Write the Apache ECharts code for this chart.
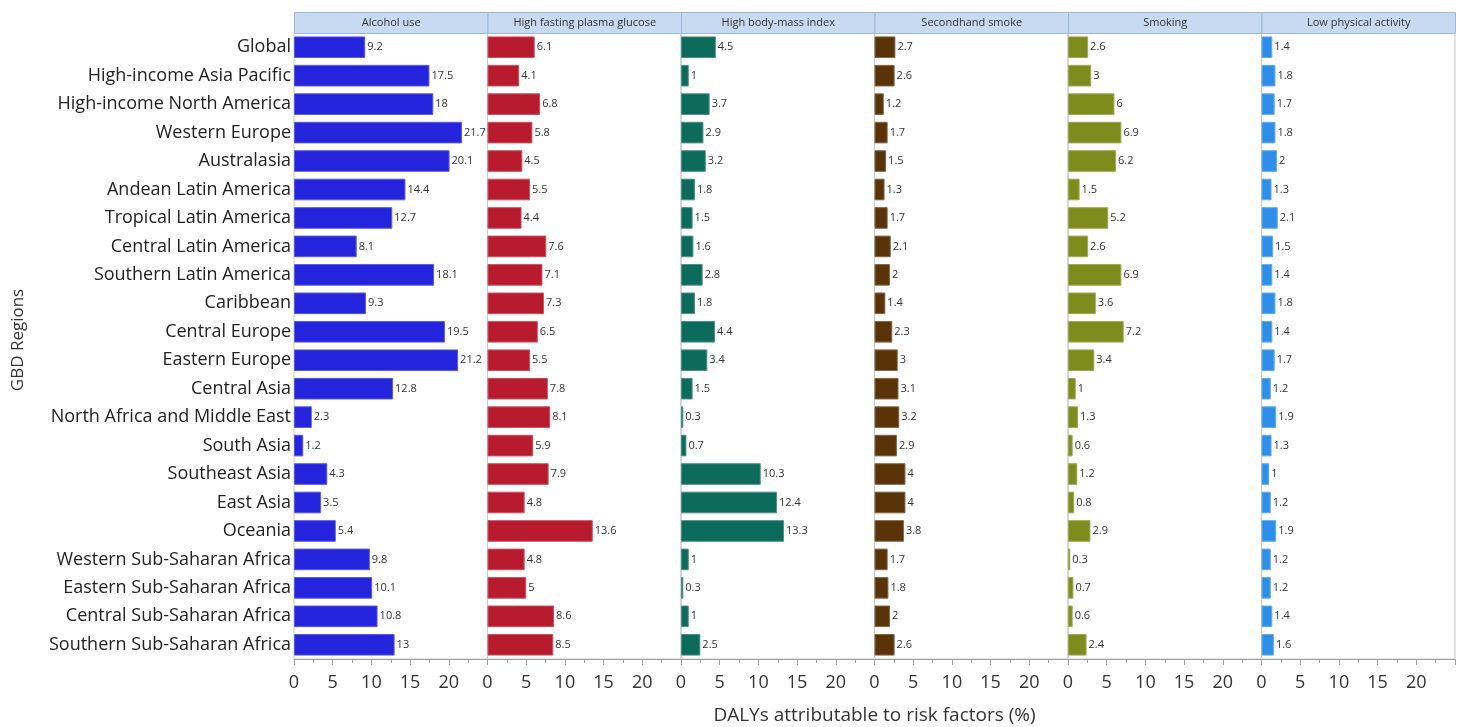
<!DOCTYPE html>
<html>
<head>
<meta charset="utf-8">
<script src="https://cdn.jsdelivr.net/npm/echarts@6/dist/echarts.min.js"></script>
<style>
  html, body { margin: 0; padding: 0; background: #fff; }
  #chart { width: 1460px; height: 727px; }
</style>
</head>
<body>
<div id="chart"></div>
<script>
// GBD regions (top to bottom)
const regions = [
  'Global', 'High-income Asia Pacific', 'High-income North America', 'Western Europe',
  'Australasia', 'Andean Latin America', 'Tropical Latin America', 'Central Latin America',
  'Southern Latin America', 'Caribbean', 'Central Europe', 'Eastern Europe', 'Central Asia',
  'North Africa and Middle East', 'South Asia', 'Southeast Asia', 'East Asia', 'Oceania',
  'Western Sub-Saharan Africa', 'Eastern Sub-Saharan Africa', 'Central Sub-Saharan Africa',
  'Southern Sub-Saharan Africa'
];

const factors = ['Alcohol use', 'High fasting plasma glucose', 'High body-mass index',
  'Secondhand smoke', 'Smoking', 'Low physical activity'];

const alcoholUse = [9.2, 17.5, 18, 21.7, 20.1, 14.4, 12.7, 8.1, 18.1, 9.3, 19.5, 21.2, 12.8, 2.3, 1.2, 4.3, 3.5, 5.4, 9.8, 10.1, 10.8, 13];
const highGlucose = [6.1, 4.1, 6.8, 5.8, 4.5, 5.5, 4.4, 7.6, 7.1, 7.3, 6.5, 5.5, 7.8, 8.1, 5.9, 7.9, 4.8, 13.6, 4.8, 5, 8.6, 8.5];
const highBmi = [4.5, 1, 3.7, 2.9, 3.2, 1.8, 1.5, 1.6, 2.8, 1.8, 4.4, 3.4, 1.5, 0.3, 0.7, 10.3, 12.4, 13.3, 1, 0.3, 1, 2.5];
const secondhandSmoke = [2.7, 2.6, 1.2, 1.7, 1.5, 1.3, 1.7, 2.1, 2, 1.4, 2.3, 3, 3.1, 3.2, 2.9, 4, 4, 3.8, 1.7, 1.8, 2, 2.6];
const smoking = [2.6, 3, 6, 6.9, 6.2, 1.5, 5.2, 2.6, 6.9, 3.6, 7.2, 3.4, 1, 1.3, 0.6, 1.2, 0.8, 2.9, 0.3, 0.7, 0.6, 2.4];
const lowActivity = [1.4, 1.8, 1.7, 1.8, 2, 1.3, 2.1, 1.5, 1.4, 1.8, 1.4, 1.7, 1.2, 1.9, 1.3, 1, 1.2, 1.9, 1.2, 1.2, 1.4, 1.6];

const seriesData = [alcoholUse, highGlucose, highBmi, secondhandSmoke, smoking, lowActivity];
const colors = ['#2424dc', '#b81a2e', '#0d6b5b', '#5b3309', '#7e8c1d', '#2f8fe8'];

// layout
const LEFT = 294, PANEL_W = 193.5, TOP = 33, PLOT_H = 626, HEAD_H = 21;
const FONT = '"Open Sans", "Noto Sans", sans-serif';

const chart = echarts.init(document.getElementById('chart'), null, { renderer: 'canvas' });

const grids = [], xAxes = [], yAxes = [], series = [], graphics = [];

factors.forEach((name, i) => {
  const left = LEFT + i * PANEL_W;
  grids.push({
    left: left, top: TOP, width: PANEL_W, height: PLOT_H,
    show: true, borderColor: '#c8c8c8', borderWidth: 1, backgroundColor: 'transparent'
  });
  xAxes.push({
    type: 'value', gridIndex: i, min: 0, max: 25, interval: 5,
    axisLine: { show: true, lineStyle: { color: '#a0a0a0' } },
    axisTick: { show: true, length: 6, lineStyle: { color: '#a0a0a0' } },
    minorTick: { show: true, splitNumber: 2, length: 4, lineStyle: { color: '#a0a0a0' } },
    splitLine: { show: false },
    axisLabel: {
      showMaxLabel: false, color: '#333', fontSize: 18, fontFamily: FONT, margin: 15
    }
  });
  yAxes.push({
    type: 'category', gridIndex: i, data: regions, inverse: true,
    axisLine: { show: false }, axisTick: { show: false },
    axisLabel: i === 0
      ? { show: true, color: '#222', fontSize: 18, fontFamily: FONT, margin: 3 }
      : { show: false }
  });
  series.push({
    type: 'bar', name: name, xAxisIndex: i, yAxisIndex: i,
    data: seriesData[i], barCategoryGap: '24%',
    itemStyle: { color: colors[i], borderColor: echarts.color.lift(colors[i], 0.25), borderWidth: 1 },
    label: {
      show: true, position: 'right', distance: 2,
      color: '#333', fontSize: 11, fontFamily: FONT
    },
    silent: true
  });
  // facet header strip
  graphics.push({
    type: 'group',
    left: left, top: TOP - HEAD_H,
    children: [
      {
        type: 'rect',
        shape: { x: 0, y: 0, width: PANEL_W, height: HEAD_H },
        style: { fill: '#c7daf1', stroke: '#9cb8dc', lineWidth: 1 }
      },
      {
        type: 'text',
        x: PANEL_W / 2, y: HEAD_H / 2,
        style: {
          text: name, fill: '#333', font: '11px ' + FONT,
          textAlign: 'center', textVerticalAlign: 'middle'
        }
      }
    ]
  });
});

// axis titles
graphics.push({
  type: 'text',
  x: LEFT + 3 * PANEL_W, y: 716,
  style: {
    text: 'DALYs attributable to risk factors (%)', fill: '#333',
    font: '19px ' + FONT, textAlign: 'center', textVerticalAlign: 'middle'
  }
});
graphics.push({
  type: 'text',
  x: 18, y: 340, rotation: Math.PI / 2,
  style: {
    text: 'GBD Regions', fill: '#333',
    font: '17px ' + FONT, textAlign: 'center', textVerticalAlign: 'middle'
  }
});

chart.setOption({
  animation: false,
  backgroundColor: '#fff',
  grid: grids,
  xAxis: xAxes,
  yAxis: yAxes,
  series: series,
  graphic: graphics
});
</script>
</body>
</html>
